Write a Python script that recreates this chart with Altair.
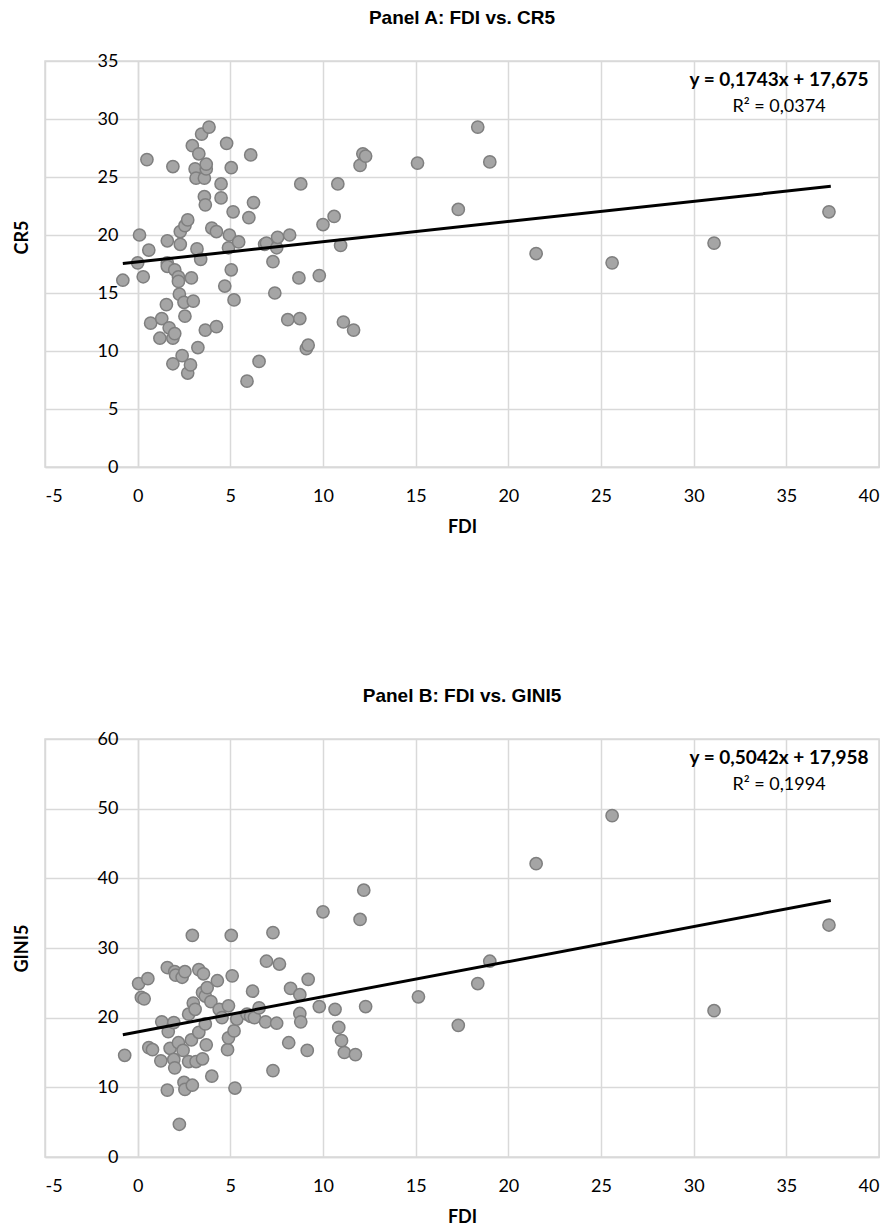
import altair as alt
import pandas as pd

# ---------------- Panel A data: FDI vs CR5 ----------------
fdi_a = [-0.8, 0.0, 0.1, 0.3, 0.5, 0.6, 0.7, 1.3, 1.2, 1.6,
         1.6, 1.6, 1.55, 1.7, 1.9, 1.9, 1.9, 2.0, 2.0, 2.2,
         2.2, 2.25, 2.3, 2.3, 2.4, 2.5, 2.55, 2.55, 2.7, 2.7,
         2.85, 2.9, 2.95, 3.0, 3.1, 3.15, 3.2, 3.25, 3.3, 3.4,
         3.45, 3.6, 3.6, 3.65, 3.65, 3.7, 3.7, 3.85, 4.0, 4.25,
         4.25, 4.5, 4.5, 4.7, 4.8, 4.9, 4.95, 5.05, 5.05, 5.15,
         5.2, 5.45, 5.9, 6.0, 6.1, 6.25, 6.55, 6.85, 6.95, 7.3,
         7.4, 7.5, 7.55, 8.1, 8.2, 8.7, 8.75, 8.8, 9.1, 9.2,
         9.8, 10.0, 10.6, 10.8, 10.95, 11.1, 11.65, 12.0, 12.15, 12.3,
         15.1, 17.3, 18.35, 19.0, 21.5, 25.6, 31.1, 37.3]
cr5 = [16.1, 17.6, 20.0, 16.4, 26.5, 18.7, 12.4, 12.8, 11.1, 19.5,
       17.6, 17.3, 14.0, 12.0, 8.9, 25.9, 11.1, 11.5, 17.0, 16.4,
       16.0, 14.9, 20.3, 19.2, 9.6, 14.2, 20.8, 13.0, 21.3, 8.1,
       8.8, 16.3, 27.7, 14.3, 25.7, 24.9, 18.8, 10.3, 27.0, 17.9,
       28.7, 24.9, 23.3, 22.6, 11.8, 25.7, 26.1, 29.3, 20.6, 20.3,
       12.1, 23.2, 24.4, 15.6, 27.9, 18.9, 20.0, 25.8, 17.0, 22.0,
       14.4, 19.4, 7.4, 21.5, 26.9, 22.8, 9.1, 19.2, 19.3, 17.7,
       15.0, 18.9, 19.8, 12.7, 20.0, 16.3, 12.8, 24.4, 10.2, 10.5,
       16.5, 20.9, 21.6, 24.4, 19.1, 12.5, 11.8, 26.0, 27.0, 26.8,
       26.2, 22.2, 29.3, 26.3, 18.4, 17.6, 19.3, 22.0]

# ---------------- Panel B data: FDI vs GINI5 ----------------
fdi_b = [-0.7, 0.05, 0.2, 0.35, 0.55, 0.6, 0.8, 1.25, 1.3, 1.6,
         1.6, 1.65, 1.75, 1.95, 1.95, 2.0, 2.0, 2.05, 2.2, 2.25,
         2.4, 2.45, 2.5, 2.55, 2.55, 2.75, 2.75, 2.9, 2.95, 2.95,
         3.0, 3.1, 3.15, 3.3, 3.3, 3.5, 3.5, 3.55, 3.65, 3.65,
         3.7, 3.75, 3.95, 4.0, 4.3, 4.4, 4.55, 4.85, 4.9, 4.9,
         5.05, 5.1, 5.2, 5.25, 5.35, 5.9, 6.1, 6.2, 6.3, 6.55,
         6.9, 6.95, 7.3, 7.3, 7.5, 7.65, 8.15, 8.25, 8.75, 8.75,
         8.8, 9.15, 9.2, 9.8, 10.0, 10.65, 10.85, 11.0, 11.15, 11.75,
         12.0, 12.2, 12.3, 15.15, 17.3, 18.35, 19.0, 21.5, 25.6, 31.1,
         37.3]
gini5 = [14.6, 24.9, 22.9, 22.7, 25.6, 15.7, 15.4, 13.8, 19.4, 27.2,
         9.6, 18.0, 15.6, 19.3, 14.0, 12.8, 26.6, 26.1, 16.4, 4.7,
         25.8, 15.3, 10.7, 26.6, 9.7, 20.5, 13.7, 16.8, 31.8, 10.3,
         22.1, 21.2, 13.7, 26.9, 17.9, 23.6, 14.1, 26.3, 23.1, 19.1,
         16.1, 24.3, 22.3, 11.6, 25.3, 21.2, 20.0, 15.4, 21.7, 17.1,
         31.8, 26.0, 18.1, 9.9, 19.8, 20.5, 20.2, 23.8, 20.0, 21.4,
         19.4, 28.1, 32.2, 12.4, 19.2, 27.7, 16.4, 24.2, 23.3, 20.6,
         19.4, 15.3, 25.5, 21.6, 35.2, 21.2, 18.6, 16.7, 15.0, 14.7,
         34.1, 38.3, 21.6, 23.0, 18.9, 24.9, 28.1, 42.1, 49.0, 21.0,
         33.3]

# Trend lines as printed on the chart (slope, intercept) over the FDI range
trend_x = [-0.8, 37.4]
coef_a = [0.1743, 17.675]
coef_b = [0.5042, 17.958]
eq_a = ["y = 0,1743x + 17,675", "R² = 0,0374"]
eq_b = ["y = 0,5042x + 17,958", "R² = 0,1994"]

x_ticks = [-5, 0, 5, 10, 15, 20, 25, 30, 35, 40]

GRID = "#d9d9d9"
LABEL_FONT = "Lato"
TITLE_FONT = "Liberation Sans"
W = 834


def panel(xs, ys, coef, eq, ytitle, ymax, ystep, height, title, title_y):
    pts = pd.DataFrame({"x": xs, "y": ys})
    line = pd.DataFrame({"x": trend_x,
                         "y": [coef[0] * v + coef[1] for v in trend_x]})
    xenc = alt.X("x:Q",
                 scale=alt.Scale(domain=[-5, 40], nice=False, zero=False),
                 axis=alt.Axis(values=x_ticks, title="FDI", grid=True,
                               ticks=False, tickSize=0, labelPadding=20,
                               titlePadding=13, domainColor=GRID,
                               domainWidth=1.5, gridColor=GRID, gridWidth=1.5,
                               labelExpr="'' + datum.value"))
    yaxis_kw = dict(values=list(range(0, ymax + 1, ystep)), title=ytitle,
                    grid=True, ticks=False, tickSize=0, labelPadding=20,
                    titlePadding=66, offset=-93, domainColor=GRID,
                    domainWidth=1.5, gridColor=GRID, gridWidth=1.5,
                    labelExpr="'' + datum.value")
    if title_y is not None:
        yaxis_kw["titleY"] = title_y
    yenc = alt.Y("y:Q", scale=alt.Scale(domain=[0, ymax], nice=False),
                 axis=alt.Axis(**yaxis_kw))

    trend = alt.Chart(line).mark_line(color="black", strokeWidth=3).encode(
        x=xenc, y=yenc)
    dots = alt.Chart(pts).mark_circle(size=150, opacity=1, color="#a5a5a5",
                                      stroke="#7f7f7f", strokeWidth=1.5).encode(
        x=xenc, y=yenc)
    t1 = alt.Chart(pd.DataFrame({"t": [eq[0]]})).mark_text(
        font=LABEL_FONT, fontSize=19, fontWeight="bold", color="black",
        align="center", baseline="middle").encode(
        text="t:N", x=alt.value(734), y=alt.value(19))
    t2 = alt.Chart(pd.DataFrame({"t": [eq[1]]})).mark_text(
        font=LABEL_FONT, fontSize=18, color="black",
        align="center", baseline="middle").encode(
        text="t:N", x=alt.value(734), y=alt.value(46))
    return alt.layer(dots, trend, t1, t2).properties(
        width=W, height=height,
        title=alt.TitleParams(title, font=TITLE_FONT, fontSize=19,
                              fontWeight="bold", color="black", offset=24,
                              anchor="middle"))


pa = panel(fdi_a, cr5, coef_a, eq_a, "CR5", 35, 5, 406,
           "Panel A: FDI vs. CR5", 176)
pb = panel(fdi_b, gini5, coef_b, eq_b, "GINI5", 60, 10, 418,
           "Panel B: FDI vs. GINI5", None)

chart = alt.vconcat(pa, pb, spacing=149).properties(
    padding={"left": 4, "top": 0, "right": 0, "bottom": 0}).configure_view(
    stroke=GRID, strokeWidth=1.5).configure_axis(
    labelFont=LABEL_FONT, labelFontSize=18, labelColor="black",
    titleFont=LABEL_FONT, titleFontSize=18, titleFontWeight="bold",
    titleColor="black")

chart.save("out.html", embed_options={"renderer": "svg", "actions": False})
